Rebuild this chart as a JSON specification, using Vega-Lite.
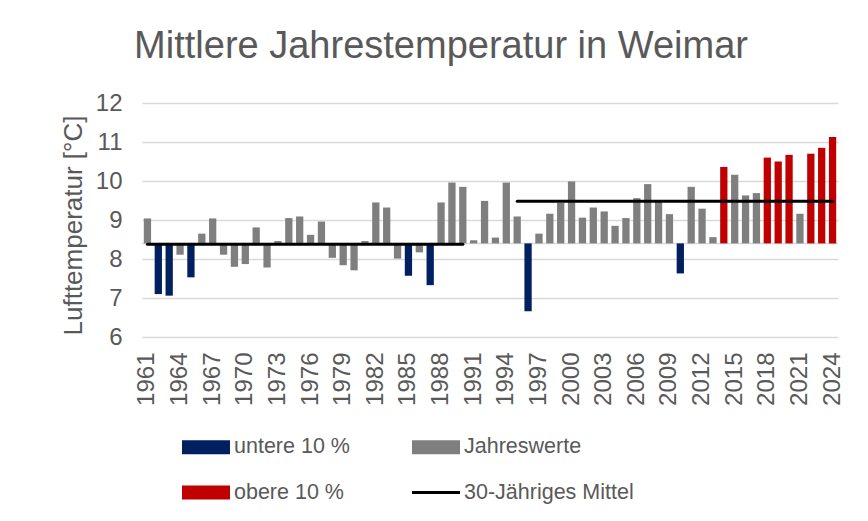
{
  "$schema": "https://vega.github.io/schema/vega-lite/v6.json",
  "width": 696,
  "height": 234,
  "autosize": {"type": "none"},
  "padding": {"left": 142, "top": 103, "right": 30, "bottom": 184},
  "background": "white",
  "title": {
    "text": "Mittlere Jahrestemperatur in Weimar",
    "fontSize": 38,
    "font": "Liberation Sans",
    "fontWeight": "normal",
    "color": "#595959",
    "anchor": "middle",
    "frame": "group",
    "dx": -49,
    "offset": 25
  },
  "datasets": {
    "years": [
      {"year": 1961, "temp": 9.04, "cat": "Jahreswerte"},
      {"year": 1962, "temp": 7.10, "cat": "untere 10 %"},
      {"year": 1963, "temp": 7.06, "cat": "untere 10 %"},
      {"year": 1964, "temp": 8.11, "cat": "Jahreswerte"},
      {"year": 1965, "temp": 7.53, "cat": "untere 10 %"},
      {"year": 1966, "temp": 8.65, "cat": "Jahreswerte"},
      {"year": 1967, "temp": 9.04, "cat": "Jahreswerte"},
      {"year": 1968, "temp": 8.11, "cat": "Jahreswerte"},
      {"year": 1969, "temp": 7.80, "cat": "Jahreswerte"},
      {"year": 1970, "temp": 7.87, "cat": "Jahreswerte"},
      {"year": 1971, "temp": 8.81, "cat": "Jahreswerte"},
      {"year": 1972, "temp": 7.78, "cat": "Jahreswerte"},
      {"year": 1973, "temp": 8.46, "cat": "Jahreswerte"},
      {"year": 1974, "temp": 9.05, "cat": "Jahreswerte"},
      {"year": 1975, "temp": 9.09, "cat": "Jahreswerte"},
      {"year": 1976, "temp": 8.62, "cat": "Jahreswerte"},
      {"year": 1977, "temp": 8.96, "cat": "Jahreswerte"},
      {"year": 1978, "temp": 8.03, "cat": "Jahreswerte"},
      {"year": 1979, "temp": 7.84, "cat": "Jahreswerte"},
      {"year": 1980, "temp": 7.71, "cat": "Jahreswerte"},
      {"year": 1981, "temp": 8.46, "cat": "Jahreswerte"},
      {"year": 1982, "temp": 9.45, "cat": "Jahreswerte"},
      {"year": 1983, "temp": 9.32, "cat": "Jahreswerte"},
      {"year": 1984, "temp": 8.01, "cat": "Jahreswerte"},
      {"year": 1985, "temp": 7.57, "cat": "untere 10 %"},
      {"year": 1986, "temp": 8.17, "cat": "Jahreswerte"},
      {"year": 1987, "temp": 7.33, "cat": "untere 10 %"},
      {"year": 1988, "temp": 9.45, "cat": "Jahreswerte"},
      {"year": 1989, "temp": 9.96, "cat": "Jahreswerte"},
      {"year": 1990, "temp": 9.85, "cat": "Jahreswerte"},
      {"year": 1991, "temp": 8.48, "cat": "Jahreswerte"},
      {"year": 1992, "temp": 9.49, "cat": "Jahreswerte"},
      {"year": 1993, "temp": 8.55, "cat": "Jahreswerte"},
      {"year": 1994, "temp": 9.96, "cat": "Jahreswerte"},
      {"year": 1995, "temp": 9.09, "cat": "Jahreswerte"},
      {"year": 1996, "temp": 6.66, "cat": "untere 10 %"},
      {"year": 1997, "temp": 8.65, "cat": "Jahreswerte"},
      {"year": 1998, "temp": 9.16, "cat": "Jahreswerte"},
      {"year": 1999, "temp": 9.44, "cat": "Jahreswerte"},
      {"year": 2000, "temp": 9.99, "cat": "Jahreswerte"},
      {"year": 2001, "temp": 9.06, "cat": "Jahreswerte"},
      {"year": 2002, "temp": 9.32, "cat": "Jahreswerte"},
      {"year": 2003, "temp": 9.22, "cat": "Jahreswerte"},
      {"year": 2004, "temp": 8.85, "cat": "Jahreswerte"},
      {"year": 2005, "temp": 9.05, "cat": "Jahreswerte"},
      {"year": 2006, "temp": 9.56, "cat": "Jahreswerte"},
      {"year": 2007, "temp": 9.92, "cat": "Jahreswerte"},
      {"year": 2008, "temp": 9.48, "cat": "Jahreswerte"},
      {"year": 2009, "temp": 9.15, "cat": "Jahreswerte"},
      {"year": 2010, "temp": 7.63, "cat": "untere 10 %"},
      {"year": 2011, "temp": 9.85, "cat": "Jahreswerte"},
      {"year": 2012, "temp": 9.29, "cat": "Jahreswerte"},
      {"year": 2013, "temp": 8.56, "cat": "Jahreswerte"},
      {"year": 2014, "temp": 10.36, "cat": "obere 10 %"},
      {"year": 2015, "temp": 10.16, "cat": "Jahreswerte"},
      {"year": 2016, "temp": 9.63, "cat": "Jahreswerte"},
      {"year": 2017, "temp": 9.69, "cat": "Jahreswerte"},
      {"year": 2018, "temp": 10.60, "cat": "obere 10 %"},
      {"year": 2019, "temp": 10.50, "cat": "obere 10 %"},
      {"year": 2020, "temp": 10.67, "cat": "obere 10 %"},
      {"year": 2021, "temp": 9.16, "cat": "Jahreswerte"},
      {"year": 2022, "temp": 10.70, "cat": "obere 10 %"},
      {"year": 2023, "temp": 10.85, "cat": "obere 10 %"},
      {"year": 2024, "temp": 11.13, "cat": "obere 10 %"}
    ],
    "means": [
      {"year": 1961, "temp": 8.38, "period": "1961-1990", "cat": "30-Jähriges Mittel"},
      {"year": 1990, "temp": 8.38, "period": "1961-1990", "cat": "30-Jähriges Mittel"},
      {"year": 1995, "temp": 9.48, "period": "1995-2024", "cat": "30-Jähriges Mittel"},
      {"year": 2024, "temp": 9.48, "period": "1995-2024", "cat": "30-Jähriges Mittel"}
    ]
  },
  "layer": [
    {
      "data": {"values": [{"base": 8.4}]},
      "mark": {"type": "rule", "color": "#d9d9d9", "strokeWidth": 1.5},
      "encoding": {
        "y": {
          "field": "base",
          "type": "quantitative",
          "scale": {"domain": [6, 12], "nice": false, "zero": false},
          "axis": {"values": [6, 7, 8, 9, 10, 11, 12], "title": "Lufttemperatur [°C]"}
        }
      }
    },
    {
      "data": {"name": "years"},
      "mark": {"type": "bar"},
      "encoding": {
        "x": {
          "field": "year",
          "type": "ordinal",
          "scale": {"paddingInner": 0.33, "paddingOuter": 0.165},
          "axis": {
            "values": [1961, 1964, 1967, 1970, 1973, 1976, 1979, 1982, 1985, 1988, 1991, 1994, 1997, 2000, 2003, 2006, 2009, 2012, 2015, 2018, 2021, 2024],
            "title": null
          }
        },
        "y": {
          "field": "temp",
          "type": "quantitative",
          "scale": {"domain": [6, 12], "nice": false, "zero": false},
          "axis": {"values": [6, 7, 8, 9, 10, 11, 12], "title": "Lufttemperatur [°C]"}
        },
        "y2": {"datum": 8.4},
        "color": {
          "field": "cat",
          "type": "nominal",
          "scale": {
            "domain": ["untere 10 %", "obere 10 %", "Jahreswerte", "30-Jähriges Mittel"],
            "range": ["#002060", "#c00000", "#7f7f7f", "#000000"]
          },
          "legend": {
            "orient": "none",
            "legendX": 40,
            "legendY": 320,
            "columns": 2,
            "title": null,
            "symbolSize": 2304,
            "symbolStrokeWidth": 0,
            "labelFontSize": 21.5,
            "labelColor": "#595959",
            "labelFont": "Liberation Sans",
            "labelOffset": 4,
            "labelLimit": 400,
            "rowPadding": 10.5,
            "columnPadding": 62,
            "padding": 0,
            "encode": {
              "symbols": {
                "update": {
                  "shape": {"signal": "datum.value === '30-Jähriges Mittel' ? 'M-1,-0.0625H1V0.0625H-1Z' : 'M-1,-0.2917H1V0.2917H-1Z'"},
                  "fill": {"signal": "scale('color', datum.value)"},
                  "strokeWidth": {"value": 0},
                  "opacity": {"value": 1}
                }
              }
            }
          }
        }
      }
    },
    {
      "data": {"name": "means"},
      "mark": {"type": "line", "strokeWidth": 3, "strokeCap": "round"},
      "encoding": {
        "x": {
          "field": "year",
          "type": "ordinal",
          "axis": {
            "values": [1961, 1964, 1967, 1970, 1973, 1976, 1979, 1982, 1985, 1988, 1991, 1994, 1997, 2000, 2003, 2006, 2009, 2012, 2015, 2018, 2021, 2024],
            "title": null
          }
        },
        "y": {
          "field": "temp",
          "type": "quantitative",
          "axis": {"values": [6, 7, 8, 9, 10, 11, 12], "title": "Lufttemperatur [°C]"}
        },
        "detail": {"field": "period", "type": "nominal"},
        "color": {"field": "cat", "type": "nominal"}
      }
    }
  ],
  "config": {
    "font": "Liberation Sans",
    "view": {"stroke": null},
    "axisX": {
      "labelAngle": -90,
      "labelFontSize": 24,
      "labelColor": "#595959",
      "labelFont": "Liberation Sans",
      "labelOverlap": false,
      "domain": false,
      "ticks": false,
      "tickSize": 0,
      "labelPadding": 15,
      "grid": false
    },
    "axisY": {
      "tickCount": 7,
      "titleFontSize": 26,
      "titleFontWeight": "normal",
      "titleColor": "#595959",
      "titleFont": "Liberation Sans",
      "titleX": -61,
      "titleY": 122,
      "titleAngle": -90,
      "titleAlign": "center",
      "titleBaseline": "alphabetic",
      "labelFontSize": 24,
      "labelColor": "#595959",
      "labelFont": "Liberation Sans",
      "labelOverlap": false,
      "labelPadding": 20,
      "domain": false,
      "ticks": false,
      "tickSize": 0,
      "grid": true,
      "gridColor": "#d9d9d9",
      "gridWidth": 1.5
    }
  }
}
